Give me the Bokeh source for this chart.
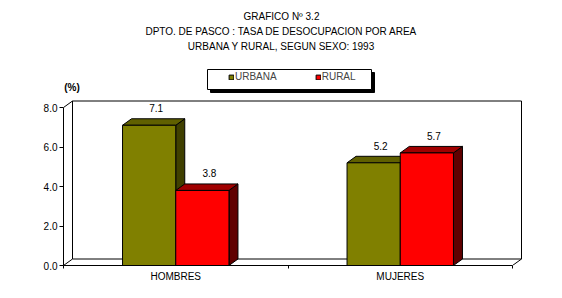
from bokeh.plotting import figure
from bokeh.models import (Range1d, FixedTicker, Label, BoxAnnotation, Legend,
                          LegendItem)
from bokeh.embed import file_html
from bokeh.resources import INLINE
from bokeh.core.properties import value

# ---------------- data ----------------
categories = ["HOMBRES", "MUJERES"]
series_names = ["URBANA", "RURAL"]
urbana = [7.1, 5.2]
rural = [3.8, 5.7]
y_ticks = [0, 2, 4, 6, 8]
y_tick_labels = ["0.0", "2.0", "4.0", "6.0", "8.0"]
title_lines = ["GRAFICO Nº 3.2",
               "DPTO. DE PASCO : TASA DE DESOCUPACION POR AREA",
               "URBANA Y RURAL, SEGUN SEXO: 1993"]
unit_label = "(%)"

# ---------------- layout / style ----------------
W, H = 562, 298
LEFT, BOTTOM = 63, 33
FRAME_W = W - LEFT
FRAME_H = H - BOTTOM
Y_MAX = 8
PX_PER_Y = 158 / Y_MAX
PX_PER_CAT = 224.5
FONT = "Liberation Sans"
FS = "10px"

def sx(px):
    return (px - LEFT) / PX_PER_CAT

def sy(py):
    return (FRAME_H - py) / PX_PER_Y

DX = 9 / PX_PER_CAT
DY = 6.5 / PX_PER_Y
BAR_W = 0.237
NCAT = len(categories)

front_cols = ["#808000", "#FF0000"]
top_cols = ["#606000", "#A00000"]
side_cols = ["#404000", "#600000"]

p = figure(width=W, height=H, x_range=Range1d(0, FRAME_W / PX_PER_CAT),
           y_range=Range1d(0, FRAME_H / PX_PER_Y), output_backend="svg",
           toolbar_location=None, tools="", min_border_left=LEFT,
           min_border_right=0, min_border_top=0, min_border_bottom=BOTTOM,
           background_fill_color="white", border_fill_color="white")
p.outline_line_color = None
p.grid.visible = False

# back wall + floor edges
wall_x = [DX, DX, NCAT + DX, NCAT + DX, DX]
wall_y = [DY, Y_MAX + DY, Y_MAX + DY, DY, DY]
p.patch(wall_x, wall_y, fill_color="white", line_color="black", line_width=1)
p.segment(x0=[0, 0, NCAT], y0=[0, Y_MAX, 0],
          x1=[DX, DX, NCAT + DX], y1=[DY, Y_MAX + DY, DY],
          line_color="black", line_width=1)

# bars
series = [urbana, rural]
fronts = []
for s, vals in enumerate(series):
    lefts = [i + 0.5 - BAR_W + s * BAR_W for i in range(NCAT)]
    rights = [l + BAR_W for l in lefts]
    side_xs = [[r, r, r + DX, r + DX] for r in rights]
    side_ys = [[0, v, v + DY, DY] for v in vals]
    top_xs = [[l, r, r + DX, l + DX] for l, r in zip(lefts, rights)]
    top_ys = [[v, v, v + DY, v + DY] for v in vals]
    p.patches(side_xs, side_ys, fill_color=side_cols[s], line_color="black",
              line_width=1)
    p.patches(top_xs, top_ys, fill_color=top_cols[s], line_color="black",
              line_width=1)
    r = p.quad(left=lefts, right=rights, top=vals, bottom=0,
               fill_color=front_cols[s], line_color="black", line_width=1)
    fronts.append(r)
    centers = [(l + rr) / 2 for l, rr in zip(lefts, rights)]
    p.text(x=centers, y=vals, text=[f"{v:.1f}" for v in vals], x_offset=7,
           y_offset=-17, text_align="center", text_baseline="middle",
           text_font=value(FONT), text_font_size=value(FS),
           text_color="black")

# axes
ya = p.yaxis[0]
ya.ticker = FixedTicker(ticks=y_ticks, minor_ticks=[])
ya.major_label_overrides = {t: l for t, l in zip(y_ticks, y_tick_labels)}
ya.bounds = (0, Y_MAX)
ya.major_tick_out = 4
ya.major_tick_in = 0
ya.minor_tick_out = 0
ya.major_label_standoff = 2
ya.axis_line_color = "black"
ya.major_tick_line_color = "black"
ya.major_label_text_font = FONT
ya.major_label_text_font_size = FS
ya.major_label_text_color = "black"

xa = p.xaxis[0]
cat_centers = [i + 0.5 for i in range(NCAT)]
xa.ticker = FixedTicker(ticks=cat_centers, minor_ticks=list(range(NCAT + 1)))
xa.major_label_overrides = {c: n for c, n in zip(cat_centers, categories)}
xa.bounds = (0, NCAT)
xa.major_tick_out = 0
xa.major_tick_in = 0
xa.minor_tick_out = 3
xa.minor_tick_in = 0
xa.minor_tick_line_color = "black"
xa.axis_line_color = "black"
xa.major_label_standoff = 2
xa.major_label_text_font = FONT
xa.major_label_text_font_size = FS
xa.major_label_text_color = "black"

# titles
for i, t in enumerate(title_lines):
    p.add_layout(Label(x=sx(281), y=sy(15.5 + 15 * i), text=t,
                       text_align="center", text_baseline="middle",
                       text_font=FONT, text_font_size=FS, text_color="black"))
p.add_layout(Label(x=sx(71.5), y=sy(86.5), text=unit_label,
                   text_align="center", text_baseline="middle",
                   text_font=FONT, text_font_size=FS, text_color="black",
                   text_font_style="bold"))

# legend box with shadow
p.add_layout(BoxAnnotation(left=sx(210), right=sx(374), top=sy(72),
                           bottom=sy(92), fill_color="black", fill_alpha=1,
                           line_color="black", line_alpha=1))
p.add_layout(BoxAnnotation(left=sx(207), right=sx(371), top=sy(69),
                           bottom=sy(89), fill_color="white", fill_alpha=1,
                           line_color="black", line_alpha=1, line_width=1))
legend = Legend(items=[LegendItem(label=n, renderers=[r])
                       for n, r in zip(series_names, fronts)],
                orientation="horizontal", location=(165, 183), padding=0,
                margin=0, spacing=38, glyph_width=6, glyph_height=6,
                label_standoff=1, label_text_font=FONT,
                label_text_font_size=FS, background_fill_alpha=0,
                border_line_alpha=0)
p.add_layout(legend)

open("out.html", "w").write(file_html(p, INLINE))
